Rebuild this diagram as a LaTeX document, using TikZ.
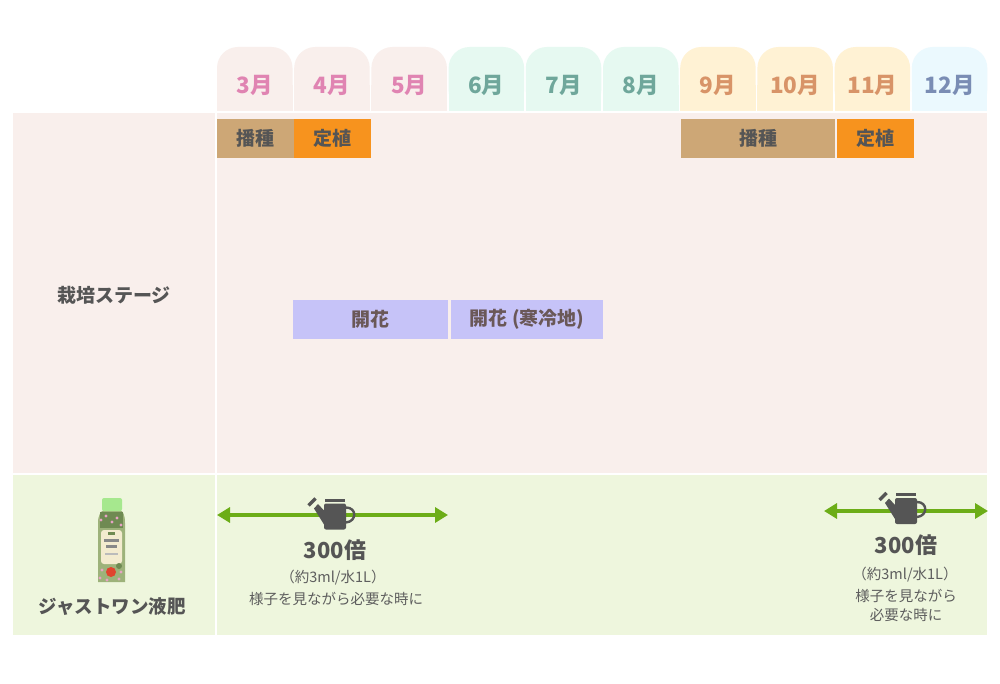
\documentclass[tikz,border=0pt]{standalone}
\usepackage{fontspec}
\setmainfont{Noto Sans CJK JP}
\usetikzlibrary{arrows.meta}
\definecolor{pinkbg}{HTML}{F9EFEC}
\definecolor{mintbg}{HTML}{E6F9F1}
\definecolor{yellowbg}{HTML}{FFF2D4}
\definecolor{cyanbg}{HTML}{EBF9FE}
\definecolor{greenbg}{HTML}{EEF6DD}
\definecolor{pinkfg}{HTML}{E084B2}
\definecolor{tealfg}{HTML}{6FA79B}
\definecolor{orangefg}{HTML}{D89468}
\definecolor{bluefg}{HTML}{7A8DB4}
\definecolor{tanbar}{HTML}{CDA776}
\definecolor{orangebar}{HTML}{F7931E}
\definecolor{lavbar}{HTML}{C6C3F8}
\definecolor{darktext}{HTML}{555555}
\definecolor{lavtext}{HTML}{6A5858}
\definecolor{arrowgreen}{HTML}{6CAD17}
\definecolor{cangray}{HTML}{555555}
\definecolor{smalltext}{HTML}{5E5E5E}
\definecolor{capgreen}{HTML}{A6E88E}
\definecolor{bottlegreen}{HTML}{9DB27A}
\definecolor{bottledark}{HTML}{6F8A52}
\definecolor{labelcream}{HTML}{F3EBCF}
\definecolor{flowerpink}{HTML}{E7A3C4}
\definecolor{tomato}{HTML}{E0442E}
\tikzset{
  monthlbl/.style={inner sep=0pt, font=\fontsize{22.5}{26}\selectfont\bfseries},
  barbox/.style={inner sep=0pt, font=\fontsize{19}{23}\selectfont\bfseries, text=darktext, minimum height=39pt},
  rowlbl/.style={inner sep=0pt, font=\fontsize{19}{23}\selectfont\bfseries, text=darktext},
  bigtxt/.style={inner sep=0pt, font=\fontsize{22}{26}\selectfont\bfseries, text=darktext},
  smalltxt/.style={inner sep=0pt, font=\fontsize{14.5}{19}\selectfont, text=smalltext},
  garrow/.style={draw=arrowgreen, line width=4pt, {Triangle[length=13pt,width=15pt]}-{Triangle[length=13pt,width=15pt]}},
  pics/wcan/.style={code={
    \fill[cangray, rounded corners=2pt] (-11,-13) rectangle (11,13);
    \fill[cangray] (-10,-18) rectangle (10,-15);
    \draw[cangray, line width=2.4pt] (11,-9) .. controls (22,-9) and (22,5) .. (11,6);
    \fill[cangray] (-11,-6) -- (-11,8) -- (-21,-8) -- (-17,-12.5) -- cycle;
    \draw[cangray, line width=3.5pt] (-26.5,-11) -- (-19.5,-18);
  }}
}
\begin{document}
\begin{tikzpicture}[x=1pt,y=-1pt]
\useasboundingbox (0,0) rectangle (1000,684);
\fill[white] (0,0) rectangle (1000,684);
% header tabs
\foreach \i/\m/\bg/\fg in {0/3/pinkbg/pinkfg,1/4/pinkbg/pinkfg,2/5/pinkbg/pinkfg,3/6/mintbg/tealfg,4/7/mintbg/tealfg,5/8/mintbg/tealfg,6/9/yellowbg/orangefg,7/10/yellowbg/orangefg,8/11/yellowbg/orangefg,9/12/cyanbg/bluefg}{
  \pgfmathsetmacro\xl{217+77.2*\i}
  \fill[\bg, rounded corners=21pt] (\xl,47) rectangle ++(75.5,64);
  \fill[\bg] (\xl,85) rectangle ++(75.5,26);
  \node[monthlbl, text=\fg] (m\m) at (\xl+37.75,85) {\m 月};
}
% stage row
\fill[pinkbg] (13,113) rectangle (215,473);
\fill[pinkbg] (217,113) rectangle (987,473);
\node[rowlbl] (stage) at (114,295) {栽培ステージ};
\node[barbox, fill=tanbar, minimum width=77pt] (sow1) at (255.5,138.5) {播種};
\node[barbox, fill=orangebar, minimum width=77pt] (plant1) at (332.5,138.5) {定植};
\node[barbox, fill=tanbar, minimum width=154pt] (sow2) at (758,138.5) {播種};
\node[barbox, fill=orangebar, minimum width=77pt] (plant2) at (875.5,138.5) {定植};
\node[barbox, fill=lavbar, text=lavtext, minimum width=155pt] (bloom1) at (370.5,319.5) {開花};
\node[barbox, fill=lavbar, text=lavtext, minimum width=152pt] (bloom2) at (527,319.5) {開花 (寒冷地)};
% fertilizer row
\fill[greenbg] (13,475) rectangle (215,635);
\fill[greenbg] (217,475) rectangle (987,635);
% bottle
\fill[bottlegreen] (98,582) -- (98,523) .. controls (98,515) and (101,511) .. (104,510) -- (120,510) .. controls (123,511) and (125,515) .. (125,523) -- (125,582) -- cycle;
\fill[bottledark] (100,512) rectangle (123,528);
\foreach \px/\py in {101/520,106/516,112/522,117/518,121/525,102/570,121/572,100/578,107/580,119/579,104/560,120/556}{
  \fill[flowerpink] (\px,\py) circle (1.7pt);
}
\fill[labelcream, rounded corners=3pt] (101,530) rectangle (122,564);
\fill[bottledark] (108,532) rectangle (115,535);
\fill[darktext!70] (104,539) rectangle (119,542);
\fill[darktext!70] (106,545) rectangle (117,548);
\fill[darktext!40] (105,553) rectangle (118,555);
\fill[tomato] (111,572) circle (5pt);
\fill[bottledark] (119,566) circle (3pt);
\fill[capgreen, rounded corners=2pt] (102,498) rectangle (122,511);
\node[rowlbl, font=\fontsize{18.5}{23}\selectfont\bfseries] (fert) at (112,607) {ジャストワン液肥};
% arrows
\coordinate (a1) at (217,515);
\coordinate (a2) at (448,515);
\coordinate (b1) at (824,511);
\coordinate (b2) at (988,511);
\draw[garrow] (a1) -- (a2);
\draw[garrow] (b1) -- (b2);
\pic at (335,516.5) {wcan};
\pic at (906,511) {wcan};
% texts
\node[bigtxt] (d1) at (335,550) {300倍};
\node[smalltxt] (r1) at (333,577.5) {（約3ml/水1L）};
\node[smalltxt] (n1) at (336,599) {様子を見ながら必要な時に};
\node[bigtxt] (d2) at (906,545) {300倍};
\node[smalltxt] (r2) at (905,575) {（約3ml/水1L）};
\node[smalltxt] (n2) at (906,596) {様子を見ながら};
\node[smalltxt] (n3) at (906,615) {必要な時に};
\end{tikzpicture}
\end{document}
